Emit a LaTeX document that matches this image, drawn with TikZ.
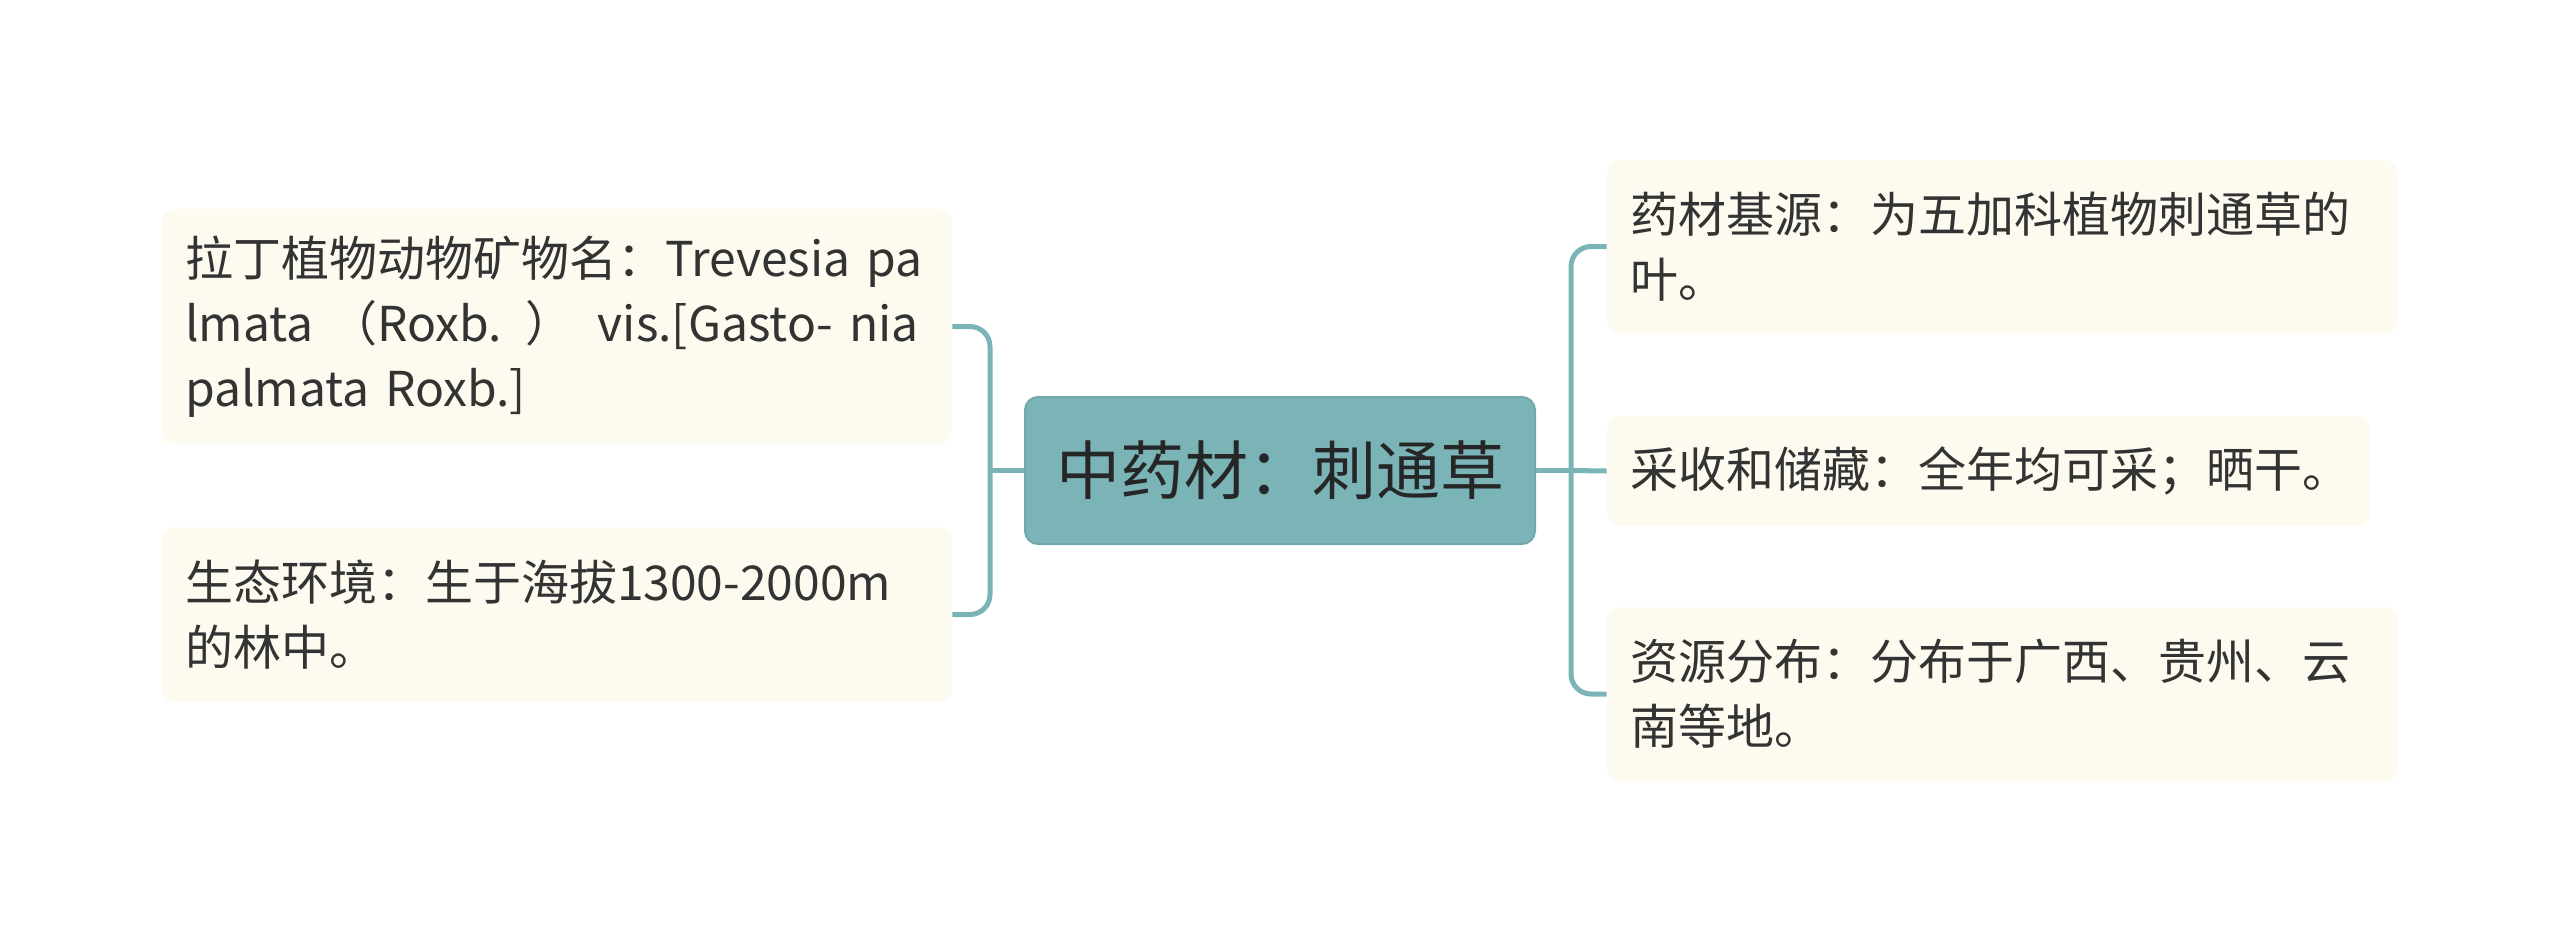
\documentclass[tikz,border=0pt]{standalone}
\usepackage{fontspec}
\setmainfont{Noto Sans CJK SC}
\definecolor{teal1}{HTML}{7BB4B6}
\definecolor{teal2}{HTML}{6FA9AB}
\definecolor{cream}{HTML}{FDFAF0}
\definecolor{txt}{HTML}{333333}
\begin{document}
\begin{tikzpicture}[x=0.5pt,y=-0.5pt,
  leaf/.style={fill=cream, draw=none, rounded corners=6.5pt, text=txt,
    font=\fontsize{24pt}{32.5pt}\selectfont, align=left, inner xsep=11.5pt,
    inner ysep=0pt, text width=372pt, minimum width=395pt},
  rootbox/.style={fill=teal1, draw=teal2, line width=1pt, rounded corners=6.5pt,
    text=black!85, font=\fontsize{32pt}{40pt}\selectfont,
    minimum width=255pt, minimum height=73.5pt, inner sep=0pt},
  conn/.style={draw=teal1, line width=2.5pt, rounded corners=10pt}]
\useasboundingbox (0,0) rectangle (2560,944);
\fill[white] (0,0) rectangle (2560,944);

\node[rootbox] (C) at (1280,470.5) {中药材：刺通草};

\node[leaf, minimum height=117.5pt] (L1) at (557,326.5)
  {\mbox{拉丁植物动物矿物名：Trevesia pa}\\\mbox{lmata （Roxb. ） vis.[Gasto- nia}\\\mbox{palmata Roxb.]}};
\node[leaf, minimum height=87.5pt] (L2) at (557,614.5)
  {\mbox{生态环境：生于海拔1300-2000m}\\\mbox{的林中。}};

\node[leaf, minimum height=86.5pt] (R1) at (2002,246.5)
  {\mbox{药材基源：为五加科植物刺通草的}\\\mbox{叶。}};
\node[leaf, minimum height=55pt, text width=358.5pt, minimum width=381.5pt] (R2) at (1988.5,471)
  {\mbox{采收和储藏：全年均可采；晒干。}};
\node[leaf, minimum height=87pt] (R3) at (2002,694)
  {\mbox{资源分布：分布于广西、贵州、云}\\\mbox{南等地。}};

\coordinate (lj) at (990,470.5);
\coordinate (rj) at (1571,470.5);

\draw[conn] (C.west) -- (lj);
\draw[conn] (L1.east) -| (lj) |- (L2.east);
\draw[conn] (C.east) -- (rj);
\draw[conn] (R1.west) -| (rj) |- (R3.west);
\draw[conn] (rj) -- (R2.west);
\end{tikzpicture}
\end{document}
